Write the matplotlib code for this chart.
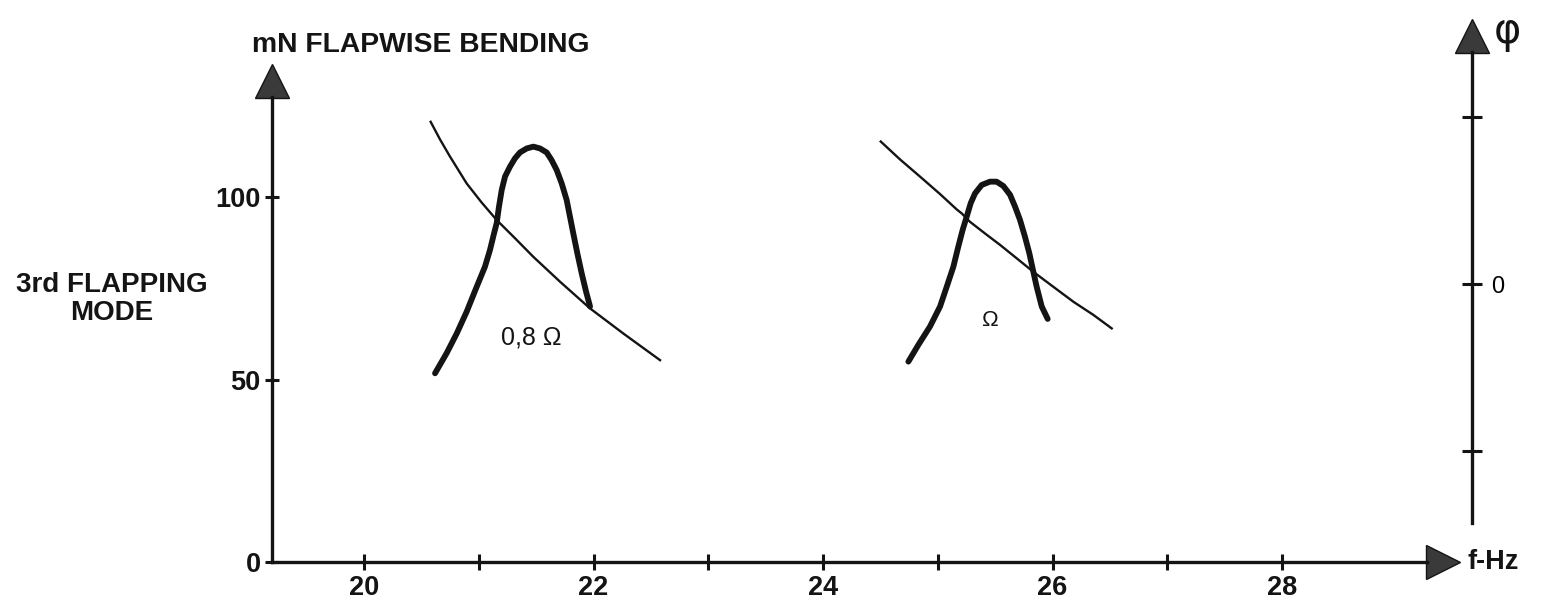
import numpy as np
import matplotlib.pyplot as plt

plt.rcParams['font.family'] = ['Liberation Sans', 'DejaVu Sans']

# frequency (Hz) / flapwise bending moment (mN)
# thin curves = phase, thick curves = bending amplitude
f_phase_08 = [20.581, 20.662, 20.749, 20.822, 20.895, 21.025, 21.156, 21.316,
              21.476, 21.708, 21.969, 22.260, 22.580]
v_phase_08 = [120.6, 115.8, 111.1, 107.4, 103.7, 98.5, 93.7, 88.7,
              83.6, 76.8, 69.5, 62.6, 55.3]

f_amp_08 = [20.619, 20.720, 20.808, 20.895, 20.982, 21.054, 21.098, 21.133,
            21.156, 21.176, 21.200, 21.229, 21.272, 21.316, 21.359, 21.418,
            21.476, 21.534, 21.592, 21.635, 21.679, 21.723, 21.766, 21.795,
            21.824, 21.859, 21.897, 21.935, 21.970]
v_amp_08 = [51.7, 57.2, 62.6, 68.6, 75.4, 80.9, 85.5, 90.0,
            92.8, 97.3, 101.9, 105.6, 108.3, 110.6, 112.2, 113.3,
            113.8, 113.3, 112.2, 110.1, 107.4, 103.7, 99.2, 94.6,
            90.0, 84.6, 79.1, 74.1, 70.0]

f_phase_10 = [24.503, 24.671, 24.845, 25.020, 25.165, 25.209, 25.281, 25.412,
              25.542, 25.688, 25.833, 26.007, 26.182, 26.356, 26.516]
v_phase_10 = [115.2, 110.3, 105.6, 100.8, 96.6, 95.5, 93.2, 90.0,
              86.9, 83.2, 79.5, 75.4, 71.3, 67.7, 64.0]

f_amp_10 = [24.744, 24.831, 24.932, 25.020, 25.078, 25.136, 25.179, 25.217,
            25.252, 25.287, 25.325, 25.383, 25.455, 25.513, 25.572, 25.630,
            25.673, 25.717, 25.760, 25.798, 25.833, 25.862, 25.906, 25.958]
v_amp_10 = [54.9, 59.5, 64.5, 70.0, 75.4, 80.9, 86.4, 91.0,
            94.6, 98.3, 101.0, 103.3, 104.2, 104.2, 103.0, 100.6,
            97.4, 93.7, 89.1, 84.6, 79.5, 75.4, 70.0, 66.6]

x_major = [20, 22, 24, 26, 28]
x_minor = [21, 23, 25, 27]
y_ticks = [0, 50, 100]
phi_ticks = [-1, 0, 1]

ink = '#141414'
arrow_fill = '#3a3a3a'

fig = plt.figure(figsize=(15.44, 6.01), dpi=100)
ax = fig.add_axes([0, 0, 1, 1])
ax.set_xlim(16.828, 30.283)
ax.set_ylim(-10.68, 153.97)
ax.patch.set_alpha(0)

x_left = 19.198   # where the left axis sits
x_end = 29.264    # end of the frequency axis line
y_top = 127.4

for s in ['top', 'right']:
    ax.spines[s].set_visible(False)
ax.spines['left'].set_position(('data', x_left))
ax.spines['bottom'].set_position(('data', 0))
ax.spines['left'].set_bounds(0, y_top)
ax.spines['bottom'].set_bounds(x_left, x_end)
for s in ['left', 'bottom']:
    ax.spines[s].set_linewidth(2.4)
    ax.spines[s].set_color(ink)

ax.set_xticks(x_major)
ax.set_xticks(x_minor, minor=True)
ax.set_xticklabels([str(x) for x in x_major])
ax.set_yticks(y_ticks)
ax.set_yticklabels([str(y) for y in y_ticks])
ax.tick_params(axis='x', which='both', direction='inout', length=11, width=2.2,
               color=ink, pad=4, labelsize=19.5)
ax.tick_params(axis='y', direction='inout', length=10, width=2.2, color=ink,
               pad=3, labelsize=19.5)
for lab in ax.get_xticklabels() + ax.get_yticklabels():
    lab.set_fontweight('bold')
    lab.set_color(ink)
ax.yaxis.get_major_ticks()[0].tick1line.set_visible(False)

# curves
ax.plot(f_phase_08, v_phase_08, color=ink, lw=1.7, solid_joinstyle='round')
ax.plot(f_phase_10, v_phase_10, color=ink, lw=1.7, solid_joinstyle='round')
ax.plot(f_amp_08, v_amp_08, color=ink, lw=4.2, solid_joinstyle='round',
        solid_capstyle='round')
ax.plot(f_amp_10, v_amp_10, color=ink, lw=4.2, solid_joinstyle='round',
        solid_capstyle='round')

ax.text(21.46, 61.6, '0,8 \u03a9', ha='center', va='center', fontsize=18, color=ink)
ax.text(25.46, 66.3, '\u03a9', ha='center', va='center', fontsize=16, color=ink)

# arrow heads on the axes
ax.plot([x_left], [y_top + 4.4], marker='^', ms=25, color=arrow_fill,
        mec=ink, mew=1, clip_on=False)
ax.plot([x_end + 0.143], [0], marker='>', ms=24, color=arrow_fill,
        mec=ink, mew=1, clip_on=False)
ax.text(29.612, 0, 'f-Hz', ha='left', va='center', fontsize=19.5,
        fontweight='bold', color=ink)

# phase axis on the right
ax2 = ax.twinx()
ax2.set_ylim(-1.898, 1.701)
x_phi = 29.656
for s in ['top', 'left', 'bottom']:
    ax2.spines[s].set_visible(False)
ax2.spines['right'].set_position(('data', x_phi))
ax2.spines['right'].set_bounds(-1.431, 1.389)
ax2.spines['right'].set_linewidth(2.4)
ax2.spines['right'].set_color(ink)
ax2.set_yticks(phi_ticks)
ax2.set_yticklabels(['', '0', ''])
ax2.tick_params(axis='y', direction='inout', length=15, width=2.2, color=ink,
                pad=6, labelsize=17)
ax2.plot([x_phi], [1.485], marker='^', ms=25, color=arrow_fill,
         mec=ink, mew=1, clip_on=False)

fig.text(1507 / 1544, 1 - 31 / 601, '\u03c6', ha='center', va='center',
         fontsize=30, family='DejaVu Sans', color=ink)
fig.text(252 / 1544, 1 - 45 / 601, 'mN FLAPWISE BENDING', ha='left', va='center',
         fontsize=20.3, fontweight='bold', color=ink)
fig.text(112 / 1544, 1 - 299 / 601, '3rd FLAPPING\nMODE', ha='center',
         va='center', fontsize=20, fontweight='bold', linespacing=1.05,
         color=ink)

fig.savefig('out.png', dpi=100, facecolor='white')
